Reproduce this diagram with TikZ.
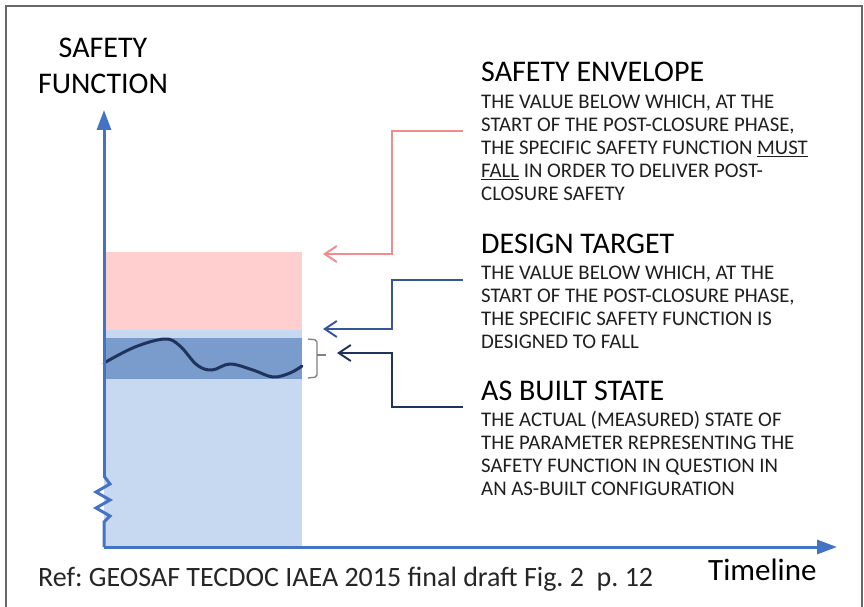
\documentclass[tikz,border=0pt]{standalone}
\usepackage{fontspec}
\setmainfont{Carlito}
\frenchspacing
\usetikzlibrary{arrows.meta}

\definecolor{axisblue}{RGB}{68,114,196}
\definecolor{envpink}{RGB}{255,206,206}
\definecolor{envline}{RGB}{240,140,140}
\definecolor{lightband}{RGB}{198,217,241}
\definecolor{darkband}{RGB}{122,156,204}
\definecolor{targetline}{RGB}{52,88,150}
\definecolor{navy}{RGB}{31,52,92}
\definecolor{framegray}{RGB}{105,105,105}

\tikzset{
  head/.style={font=\fontsize{30}{36}\selectfont,anchor=base west,inner sep=0pt},
  body/.style={font=\fontsize{20.8}{23}\selectfont,anchor=base west,align=left,inner sep=0pt,text=black!88},
  pointer/.style={line width=2pt,-{Straight Barb[length=12pt,width=16pt,line width=2pt]}},
  axis/.style={line width=3pt,axisblue,-{Triangle[length=20pt,width=14pt]}}
}

\begin{document}
\begin{tikzpicture}[x=1pt,y=-1pt]
  \useasboundingbox (0,0) rectangle (864,607);
  % frame
  \draw[framegray,line width=1.5pt] (6,607) -- (6,6) -- (862,6) -- (862,607);

  % bands
  \fill[envpink] (104,252) rectangle (302,330);
  \fill[lightband] (104,330) rectangle (302,547);
  \fill[darkband] (104,338) rectangle (302,379);

  % as built curve
  \draw[navy,line width=3pt,line cap=round] plot[smooth,tension=0.6] coordinates
    {(104,363) (135,347) (165,339) (180,346) (197,365) (212,370) (230,364) (253,370) (273,377) (290,373) (302,366)};

  % axes
  \coordinate (origin) at (104,547);
  \coordinate (ytop) at (104,110);
  \coordinate (xend) at (837,547);
  \draw[axis,-] (origin) -- (104,522) -- (110,516) -- (96,508) -- (110,500) -- (96,492) -- (110,484) -- (104,476);
  \draw[axis] (104,477) -- (ytop);
  \draw[axis] (origin) -- (xend);

  % multi-line nodes sit on their last baseline
  \node[font=\fontsize{30}{36}\selectfont,align=center,anchor=base,inner sep=0pt] (yname) at (103,94) {SAFETY\\FUNCTION};
  \node[font=\fontsize{31}{36}\selectfont,anchor=base west,inner sep=0pt] (xname) at (708,580) {Timeline};
  \node[font=\fontsize{28}{34}\selectfont,anchor=base west,inner sep=0pt,text=black!85] (ref) at (38,586)
    {Ref: GEOSAF TECDOC IAEA 2015 final draft Fig. 2~~p. 12};

  % bracket
  \draw[black!50,line width=1.3pt,rounded corners=2pt] (308,339) -- (317,340) -- (317,377) -- (308,378);
  \draw[black!50,line width=1.3pt] (317,355) -- (326,355);

  % texts
  \node[head] (envhead) at (481,82) {SAFETY ENVELOPE};
  \node[body] (envbody) at (481,200.5) {THE VALUE BELOW WHICH, AT THE\\START OF THE POST-CLOSURE PHASE,\\THE SPECIFIC SAFETY FUNCTION \underline{MUST}\\\underline{FALL} IN ORDER TO DELIVER POST-\\CLOSURE SAFETY};
  \node[head] (dthead) at (481,253) {DESIGN TARGET};
  \node[body] (dtbody) at (481,348.5) {THE VALUE BELOW WHICH, AT THE\\START OF THE POST-CLOSURE PHASE,\\THE SPECIFIC SAFETY FUNCTION IS\\DESIGNED TO FALL};
  \node[head] (abhead) at (481,400) {AS BUILT STATE};
  \node[body] (abbody) at (481,495) {THE ACTUAL (MEASURED) STATE OF\\THE PARAMETER REPRESENTING THE\\SAFETY FUNCTION IN QUESTION IN\\AN AS-BUILT CONFIGURATION};

  % pointers
  \coordinate (envtail) at (463,131);
  \coordinate (envbend) at (392,254);
  \coordinate (envtip) at (323,254);
  \coordinate (dttail) at (463,280);
  \coordinate (dtbend) at (392,329);
  \coordinate (dttip) at (323,329);
  \coordinate (abtail) at (463,407);
  \coordinate (abbend) at (392,353);
  \coordinate (abtip) at (337,353);
  \draw[pointer,envline] (envtail) -| (envbend) -- (envtip);
  \draw[pointer,targetline] (dttail) -| (dtbend) -- (dttip);
  \draw[pointer,navy] (abtail) -| (abbend) -- (abtip);
\end{tikzpicture}
\end{document}
